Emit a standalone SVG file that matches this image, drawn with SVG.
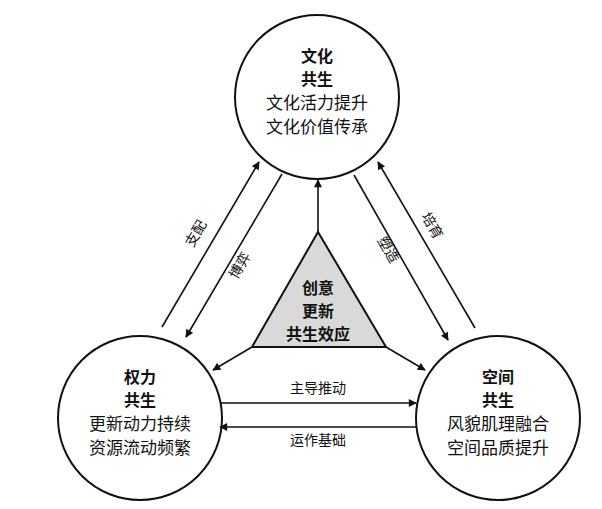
<svg xmlns="http://www.w3.org/2000/svg" width="602" height="509" viewBox="0 0 602 509">
<style>
text{font-family:"Noto Sans CJK SC","Noto Sans",sans-serif;fill:#111;text-anchor:middle}
.b{font-weight:bold;font-size:16px}
.n{font-size:17px}
.l{font-size:14px}
.c{fill:#fff;stroke:#111;stroke-width:2}
.a{stroke:#111;stroke-width:1.6;fill:none;marker-end:url(#ah)}
</style>
<defs><marker id="ah" viewBox="0 0 10 10" refX="9" refY="5" markerWidth="9" markerHeight="8" orient="auto" markerUnits="userSpaceOnUse"><path d="M0,0L10,5L0,10z" fill="#111"/></marker></defs>
<rect width="602" height="509" fill="#fff"/>
<g id="culture"><circle class="c" cx="317" cy="97" r="82"/>
<text class="b" x="317" y="62">文化</text><text class="b" x="317" y="85">共生</text>
<text class="n" x="317" y="109">文化活力提升</text><text class="n" x="317" y="133">文化价值传承</text></g>
<g id="power"><circle class="c" cx="140" cy="418" r="82"/>
<text class="b" x="140" y="383">权力</text><text class="b" x="140" y="406">共生</text>
<text class="n" x="140" y="430">更新动力持续</text><text class="n" x="140" y="454">资源流动频繁</text></g>
<g id="space"><circle class="c" cx="498" cy="418" r="82"/>
<text class="b" x="498" y="383">空间</text><text class="b" x="498" y="406">共生</text>
<text class="n" x="498" y="430">风貌肌理融合</text><text class="n" x="498" y="454">空间品质提升</text></g>
<g id="center"><polygon points="318,232 252,347 386,347" fill="#d9d9d9" stroke="#111" stroke-width="2"/>
<text class="b" x="318" y="294">创意</text><text class="b" x="318" y="317">更新</text><text class="b" x="318" y="340">共生效应</text></g>
<g id="connectors">
<path class="a" d="M162,327L259,162"/>
<path class="a" d="M282,174L186,337"/>
<path class="a" d="M318,232L318,180"/>
<path class="a" d="M354,175L448,340"/>
<path class="a" d="M475,328L378,162"/>
<path class="a" d="M252,347L213,370"/>
<path class="a" d="M386,347L425,370"/>
<path class="a" d="M220,403L416,403"/>
<path class="a" d="M416,427L220,427"/>
<text class="l" transform="translate(200,236) rotate(-60)">支配</text>
<text class="l" transform="translate(244,268) rotate(-60)">博弈</text>
<text class="l" transform="translate(384,252) rotate(60)">塑造</text>
<text class="l" transform="translate(428,228) rotate(60)">培育</text>
<text class="l" x="318" y="393">主导推动</text>
<text class="l" x="318" y="445">运作基础</text>
</g>
</svg>
